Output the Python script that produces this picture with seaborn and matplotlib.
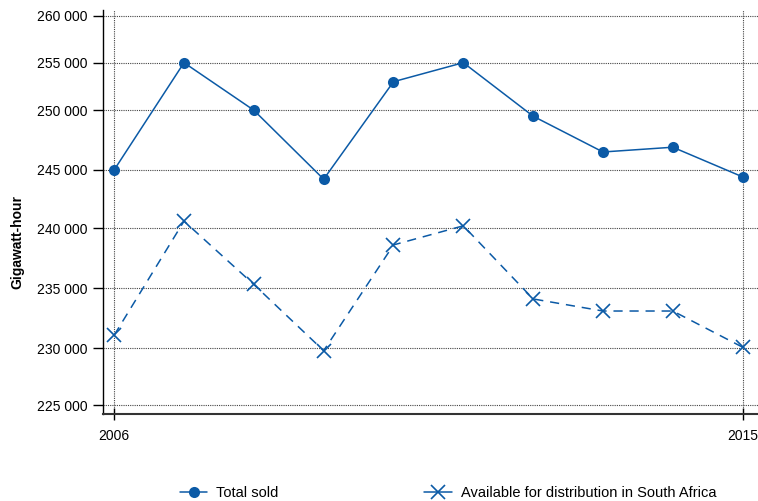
import matplotlib
matplotlib.use("Agg")
import matplotlib.pyplot as plt
import matplotlib.ticker as mticker
import seaborn as sns
import numpy as np
import pandas as pd

# data (gigawatt-hour)
years = [2006, 2007, 2008, 2009, 2010, 2011, 2012, 2013, 2014, 2015]
total_sold = [245000, 255000, 250000, 244200, 253000, 255000, 249500, 246500, 246900, 244400]
available_sa = [231100, 240600, 235300, 229800, 238600, 240200, 234100, 233100, 233100, 230100]

y_ticks = [225000, 230000, 235000, 240000, 245000, 250000, 255000, 260000]
x_ticks = [2006, 2015]
series_names = ["Total sold", "Available for distribution in South Africa"]

# the reference value axis is not evenly spaced: the band above 250 000 is squeezed.
# map values onto the gaps measured between its gridlines
scale_vals = [224250, 225000, 230000, 235000, 240000, 245000, 250000, 255000, 260000, 260600]
scale_gaps = [0, 8.6, 57.0, 60.4, 60.0, 58.3, 59.7, 47.6, 47.0, 5.7]
scale_pos = np.cumsum(scale_gaps)


def forward(v):
    return np.interp(v, scale_vals, scale_pos)


def inverse(p):
    return np.interp(p, scale_pos, scale_vals)


sns.set_style("white")
plt.rcParams['font.family'] = ['Liberation Sans', 'DejaVu Sans']
plt.rcParams['text.color'] = 'black'
plt.rcParams['xtick.color'] = 'black'
plt.rcParams['ytick.color'] = 'black'
plt.rcParams['axes.labelcolor'] = 'black'

blue = "#0b5aa6"

fig = plt.figure(figsize=(7.58, 5.01), dpi=100)
ax = fig.add_axes([0.1359, 0.1737, 0.8641, 0.8063])

df = pd.DataFrame({"year": years, "total": total_sold, "available": available_sa})

sns.lineplot(data=df, x="year", y="total", ax=ax, color=blue, linewidth=1.1,
             marker="o", markersize=8, markeredgewidth=0, label=series_names[0])
sns.lineplot(data=df, x="year", y="available", ax=ax, color=blue, linewidth=1.1,
             linestyle=(0, (6, 4.5)), marker="x", markersize=10, markeredgewidth=1.2,
             markeredgecolor=blue, label=series_names[1])

ax.set_yscale("function", functions=(forward, inverse))
ax.set_ylim(scale_vals[0], scale_vals[-1])
ax.set_xlim(2005.84, 2015.22)

ax.set_yticks(y_ticks)
ax.yaxis.set_major_formatter(mticker.FuncFormatter(lambda v, p: f"{v:,.0f}".replace(",", " ")))
ax.yaxis.set_minor_locator(mticker.NullLocator())
ax.set_xticks(x_ticks)
ax.set_xticklabels([str(x) for x in x_ticks])

ax.tick_params(axis="y", direction="out", length=7, width=1, color="black",
               labelsize=10, pad=4, left=True)
ax.tick_params(axis="x", direction="inout", length=9, width=1, color="black",
               labelsize=10, pad=6, bottom=True)

ax.grid(True, color="#444444", linestyle=(0, (1, 1)), linewidth=0.8)

for side in ["top", "right"]:
    ax.spines[side].set_visible(False)
ax.spines["left"].set_color("black")
ax.spines["left"].set_linewidth(1.0)
ax.spines["bottom"].set_color("#333333")
ax.spines["bottom"].set_linewidth(1.5)

ax.set_xlabel("")
ax.set_ylabel("Gigawatt-hour", fontsize=10, fontweight="bold")
ax.yaxis.set_label_coords(-0.12, 0.425)

# legend with solid handles at the bottom
ax.get_legend().remove()
h1 = plt.Line2D([], [], color=blue, linewidth=1.1, marker="o", markersize=8, markeredgewidth=0)
h2 = plt.Line2D([], [], color=blue, linewidth=1.1, marker="x", markersize=10,
                markeredgewidth=1.2, markeredgecolor=blue)
fig.legend([h1, h2], series_names, loc="center", bbox_to_anchor=(0.591, 0.016), ncol=2,
           frameon=False, fontsize=10.5, handlelength=1.9, handletextpad=0.6,
           columnspacing=10.0)

fig.savefig("out.png", dpi=100)
